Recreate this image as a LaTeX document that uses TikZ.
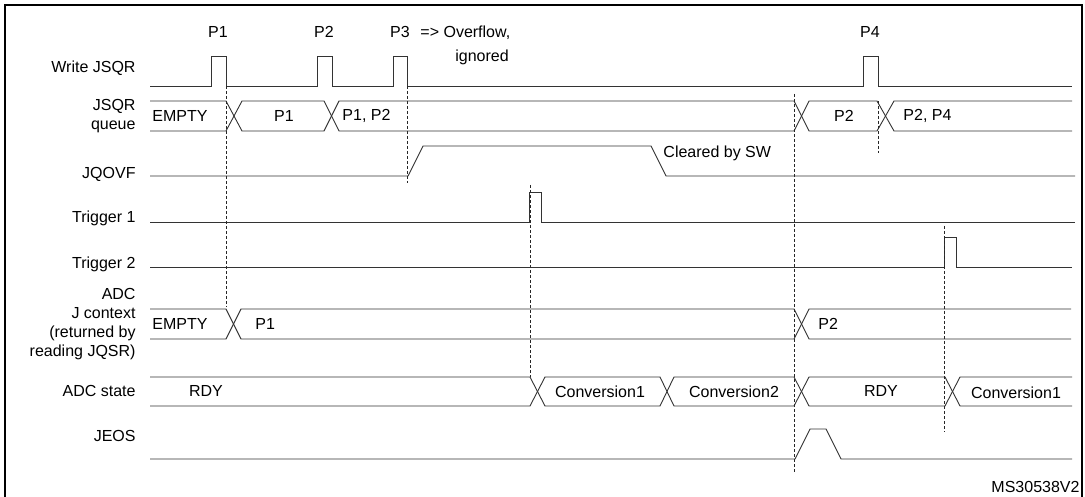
\documentclass[tikz,border=0pt]{standalone}
\usepackage{fontspec}
\setmainfont{Liberation Sans}
\begin{document}
\begin{tikzpicture}[x=1pt,y=-1pt,line width=0.9pt,
  sig/.style={draw=black!80},
  guide/.style={draw=black!85,dashed,dash pattern=on 3pt off 2pt,line width=0.7pt},
  lab/.style={font=\fontsize{16}{19}\selectfont,inner sep=0pt},
  rlab/.style={lab,anchor=east,align=right}]
\useasboundingbox (0,0) rectangle (1085,497);
\fill[white] (0,0) rectangle (1085,497);
\draw[line width=1.6pt] (5,497) -- (5,5) -- (1082,5) -- (1082,497);
% labels
\node[rlab] (lw) at (136,68) {Write JSQR};
\node[rlab] (lq) at (136,116) {JSQR\\queue};
\node[rlab] (lo) at (136,174) {JQOVF};
\node[rlab] (lt1) at (136,218) {Trigger 1};
\node[rlab] (lt2) at (136,264) {Trigger 2};
\node[rlab] (lc) at (136,324) {ADC\\J context\\(returned by\\reading JQSR)};
\node[rlab] (ls) at (136,391) {ADC state};
\node[rlab] (le) at (136,436) {JEOS};
% Write JSQR
\draw[sig] (150,86) -- (211,86) -- (211,56) -- (226,56) -- (226,86) -- (317,86) -- (317,56) -- (332,56) -- (332,86)
  -- (393,86) -- (393,56) -- (407,56) -- (407,86) -- (863,86) -- (863,56) -- (878,56) -- (878,86) -- (1072,86);
\node[lab] (p1) at (218,32) {P1};
\node[lab] (p2) at (324,32) {P2};
\node[lab] (p3) at (400,32) {P3};
\node[lab,anchor=west] (ov) at (420,33) {=> Overflow,};
\node[lab] (ig) at (482,57) {ignored};
\node[lab] (p4) at (870,32) {P4};
% JSQR queue
\draw[sig] (150,101) -- (226,101) -- (242,131) -- (324,131) -- (339,101) -- (794,101) -- (809,131) -- (877,131) -- (894,101) -- (1072,101);
\draw[sig] (150,131) -- (226,131) -- (242,101) -- (324,101) -- (339,131) -- (794,131) -- (809,101) -- (877,101) -- (894,131) -- (1072,131);
\node[lab,anchor=west] (qe) at (152,116) {EMPTY};
\node[lab] (q1) at (284,116) {P1};
\node[lab,anchor=west] (q12) at (342,116) {P1, P2};
\node[lab] (q2) at (844,116) {P2};
\node[lab,anchor=west] (q24) at (903,116) {P2, P4};
% JQOVF
\draw[sig] (150,176) -- (408,176) -- (423,146) -- (651,146) -- (666,176) -- (1075,176);
\node[lab,anchor=west] (cl) at (663,153) {Cleared by SW};
% Trigger 1
\draw[sig] (150,222) -- (529,222) -- (529,192) -- (541,192) -- (541,222) -- (1075,222);
% Trigger 2
\draw[sig] (150,267) -- (944,267) -- (944,237) -- (956,237) -- (956,267) -- (1072,267);
% ADC J context
\draw[sig] (150,309) -- (226,309) -- (241,339) -- (794,339) -- (809,309) -- (1071,309);
\draw[sig] (150,339) -- (226,339) -- (241,309) -- (794,309) -- (809,339) -- (1071,339);
\node[lab,anchor=west] (ce) at (152,324) {EMPTY};
\node[lab,anchor=west] (c1) at (255,324) {P1};
\node[lab,anchor=west] (c2) at (818,324) {P2};
% ADC state
\draw[sig] (150,377) -- (530,377) -- (545,406) -- (660,406) -- (674,377) -- (794,377) -- (809,406) -- (945,406) -- (960,377) -- (1072,377);
\draw[sig] (150,406) -- (530,406) -- (545,377) -- (660,377) -- (674,406) -- (794,406) -- (809,377) -- (945,377) -- (960,406) -- (1072,406);
\node[lab] (s1) at (206,391) {RDY};
\node[lab] (s2) at (600,392) {Conversion1};
\node[lab] (s3) at (734,392) {Conversion2};
\node[lab] (s4) at (881,391) {RDY};
\node[lab] (s5) at (1016,393) {Conversion1};
% JEOS
\draw[sig] (150,459) -- (795,459) -- (810,429) -- (826,429) -- (841,459) -- (1072,459);
% guides
\draw[guide] (226,86) -- (226,307);
\draw[guide] (407,86) -- (407,183);
\draw[guide] (794,94) -- (794,472);
\draw[guide] (878,101) -- (878,153);
\draw[guide] (530,185) -- (530,377);
\draw[guide] (944,226) -- (944,432);
\node[lab,anchor=east] (ms) at (1080,487) {MS30538V2};
\end{tikzpicture}
\end{document}
